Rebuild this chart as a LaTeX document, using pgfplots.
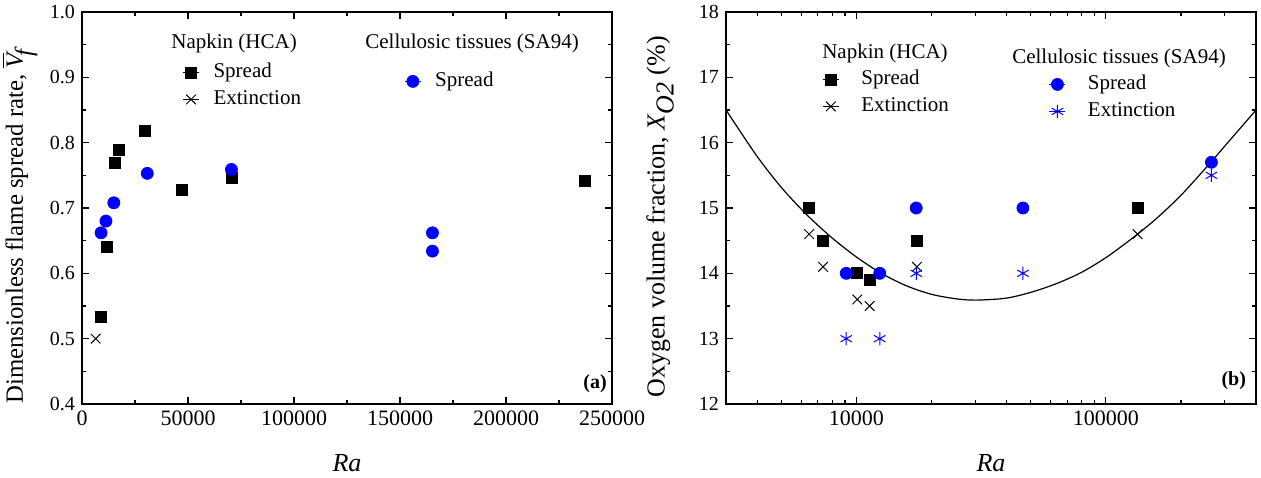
\documentclass[border=0pt]{standalone}
\usepackage{fontspec}
\setmainfont{Liberation Serif}
\usepackage{pgfplots}
\pgfplotsset{compat=1.18}
\definecolor{myblue}{RGB}{0,0,255}
\pgfplotsset{
  base/.style={
    scale only axis, width=265pt, height=196pt,
    axis line style={line width=0.8pt},
    tick style={line width=0.6pt, black},
    major tick length=3.5pt, minor tick length=2pt,
    /pgf/number format/assume math mode=true,
    xticklabel style={font=\fontsize{11}{13}\selectfont},
    yticklabel style={font=\fontsize{10}{12}\selectfont},
    legend cell align=left,
  },
  nsp/.style={only marks, mark=square*, black, mark size=2.75pt},
  nex/.style={only marks, mark=x, black, mark size=3.4pt, line width=0.5pt},
  csp/.style={only marks, mark=*, myblue, mark size=3pt},
  cex/.style={only marks, mark=asterisk, myblue, mark size=3.3pt, line width=0.5pt},
  leg/.style={legend style={at={(rel axis cs:#1)}, anchor=north west, draw=none, fill=none, inner sep=0pt,
      font=\fontsize{10.5}{12}\selectfont,
      nodes={inner sep=0pt, text height=7.5pt, text depth=2.5pt}, row sep=3.5pt},
      legend image code/.code={\path (-4pt,0pt) -- (4pt,0pt); \draw[##1] plot coordinates {(0pt,0pt)};}},
}
\begin{document}
\begin{tikzpicture}
\path[use as bounding box] (0,0) rectangle (630.5pt,238.5pt);
% ---------- panel (a)
\begin{axis}[base, at={(41pt,36.5pt)}, anchor=south west,
  xmin=0, xmax=250000, ymin=0.4, ymax=1.0,
  xtick={0,50000,100000,150000,200000,250000}, minor x tick num=1,
  ytick={0.4,0.5,0.6,0.7,0.8,0.9,1.0}, minor y tick num=1,
  scaled x ticks=false,
  xticklabel style={/pgf/number format/.cd, fixed, 1000 sep={}},
  yticklabel style={/pgf/number format/.cd, fixed, fixed zerofill, precision=1},
  leg={0.189,0.8724}, legend style={column sep=7pt},
]
\addplot[nsp] coordinates {(8900,0.534) (11800,0.640) (15300,0.769) (17300,0.789) (29700,0.818) (47100,0.727) (70500,0.746) (237300,0.741)};
\addlegendentry{Spread}
\addplot[nex] coordinates {(6450,0.500)};
\addlegendentry{Extinction}
\node[font=\fontsize{10.5}{12}\selectfont] at (rel axis cs:0.287,0.921) {Napkin (HCA)};
\node[font=\fontsize{10.5}{12}\selectfont] at (rel axis cs:0.736,0.921) {Cellulosic tissues (SA94)};
\node[font=\fontsize{10}{12}\selectfont\bfseries] at (rel axis cs:0.968,0.051) {(a)};
\end{axis}
\begin{axis}[base, at={(41pt,36.5pt)}, anchor=south west, hide axis,
  xmin=0, xmax=250000, ymin=0.4, ymax=1.0,
  leg={0.6076,0.8495}, legend style={column sep=7pt},
]
\addplot[csp] coordinates {(9000,0.662) (11300,0.680) (15000,0.708) (30800,0.753) (70500,0.759) (165300,0.662) (165300,0.634)};
\addlegendentry{Spread}
\end{axis}
% ---------- panel (b)
\begin{axis}[base, at={(363pt,36.5pt)}, anchor=south west,
  xmode=log, xmin=3000, xmax=400000, ymin=12, ymax=18,
  xtick={10000,100000}, xticklabels={10000,100000},
  minor xtick={4000,5000,6000,7000,8000,9000,20000,30000,40000,50000,60000,70000,80000,90000,200000,300000},
  ytick={12,13,14,15,16,17,18}, minor y tick num=1,
  leg={0.181,0.8546}, legend style={column sep=11pt},
]
\addplot[black, line width=0.6pt, smooth, forget plot] coordinates {(3000,16.50) (3981,15.80) (5012,15.31) (6310,14.90) (7943,14.55) (10000,14.25) (12589,14.00) (15849,13.81) (19953,13.68) (25119,13.61) (30200,13.59) (39811,13.62) (50119,13.71) (63096,13.84) (79433,14.01) (100000,14.24) (125893,14.52) (158489,14.83) (199526,15.19) (251189,15.61) (316228,16.05) (400000,16.50)};
\addplot[nsp] coordinates {(6460,15.0) (7350,14.5) (10080,14.0) (11300,13.9) (17480,14.5) (134000,15.0)};
\addlegendentry{Spread}
\addplot[nex] coordinates {(6460,14.6) (7350,14.1) (10080,13.6) (11300,13.5) (17480,14.1) (134000,14.6)};
\addlegendentry{Extinction}
\node[font=\fontsize{10.5}{12}\selectfont] at (rel axis cs:0.300,0.895) {Napkin (HCA)};
\node[font=\fontsize{10.5}{12}\selectfont] at (rel axis cs:0.7415,0.8827) {Cellulosic tissues (SA94)};
\node[font=\fontsize{10}{12}\selectfont\bfseries] at (rel axis cs:0.958,0.059) {(b)};
\end{axis}
\begin{axis}[base, at={(363pt,36.5pt)}, anchor=south west, hide axis,
  xmode=log, xmin=3000, xmax=400000, ymin=12, ymax=18,
  leg={0.6085,0.8418}, legend style={column sep=11pt},
]
\addplot[csp] coordinates {(9100,14.0) (12400,14.0) (17370,15.0) (46500,15.0) (265000,15.7)};
\addlegendentry{Spread}
\addplot[cex] coordinates {(9100,13.0) (12400,13.0) (17370,14.0) (46500,14.0) (265000,15.5)};
\addlegendentry{Extinction}
\end{axis}
% ---------- axis labels
\node[rotate=90, anchor=west, inner sep=0pt, font=\fontsize{12.4}{14}\selectfont] at (10pt,36.5pt) {Dimensionless flame spread rate, $\overline{\textit{V}}_{\!\textit{f}}$};
\node[rotate=90, anchor=west, inner sep=0pt, font=\fontsize{13}{15}\selectfont] at (330pt,39.5pt) {Oxygen volume fraction, $\textit{X}_{\textit{O2}}$ (\%)};
\node[font=\fontsize{13}{15}\selectfont\itshape] at (173.5pt,7pt) {Ra};
\node[font=\fontsize{13}{15}\selectfont\itshape] at (495.5pt,7pt) {Ra};
\end{tikzpicture}
\end{document}
